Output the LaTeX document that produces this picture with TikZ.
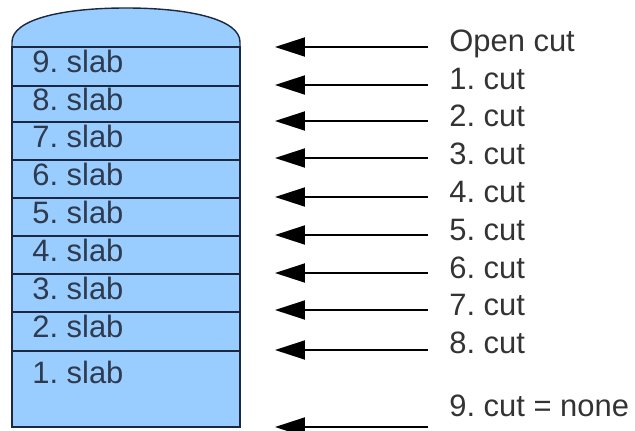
\documentclass[tikz,border=0pt]{standalone}
\usepackage{fontspec}
\setmainfont{Liberation Sans}
\usepackage{tikz}
\usetikzlibrary{%
  arrows.meta,% wg. Triangle tips
  calc,%
  positioning%
}
\frenchspacing

\definecolor{slabblue}{RGB}{153,204,255}
\definecolor{slabline}{RGB}{28,40,66}
\definecolor{slabtext}{RGB}{46,58,78}
\definecolor{cuttext}{RGB}{51,51,51}

\tikzset{
  slabbody/.style={fill=slabblue,draw=slabline,line width=0.8pt},
  slablabel/.style={anchor=west,inner sep=0pt,text=slabtext,
    text height=0.716em,text depth=0pt},
  cutlabel/.style={anchor=west,inner sep=0pt,text=cuttext,
    text height=0.716em,text depth=0pt},
  cutarrow/.style={-{Triangle[length=0.6cm,width=0.38cm]},line width=1.1pt}
}

\begin{document}
\begin{tikzpicture}[
  x=0.02cm, y=0.02cm,
  font=\fontsize{17.6pt}{21pt}\selectfont
]
\useasboundingbox (0,0) rectangle (635,430);

% the stack with its dome
\draw[slabbody] (12,383) -- (12,388)
  .. controls (12,410) and (60,422) .. (126,422)
  .. controls (192,422) and (240,410) .. (240,388)
  -- (240,383) -- cycle;
\draw[slabbody] (12,3) rectangle (240,383);
\foreach \y in {344,308,270,232,194,156,118,79} {
  \draw[slabline,line width=0.8pt] (12,\y) -- (240,\y);
}

% slab names
\foreach \i/\y in {9/363.5,8/326,7/289,6/251,5/213,4/175,3/137,2/98.5,1/53} {
  \node[slablabel] (slab\i) at (32,\y) {\i. slab};
}

% cuts
\node[cutlabel] (cutO) at (449,385) {Open cut};
\foreach \i/\y in {1/347,2/310,3/272,4/234,5/196,6/158,7/121,8/83} {
  \node[cutlabel] (cut\i) at (449,\y) {\i. cut};
}
\node[cutlabel] (cut9) at (449,20) {9. cut = none};

\foreach \i/\y in {O/383,1/345,2/309,3/272,4/233,5/195,6/157,7/120,8/80,9/3} {
  \coordinate (s\i) at (428,\y);
  \coordinate (t\i) at (275,\y);
  \draw[cutarrow] (s\i) -- (t\i);
}
\end{tikzpicture}
\end{document}
